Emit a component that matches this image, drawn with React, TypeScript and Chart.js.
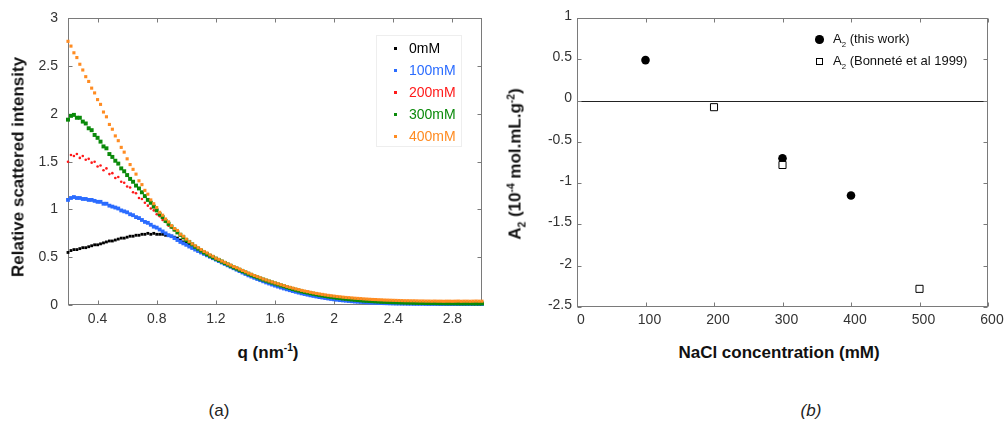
import React, { useEffect, useRef } from "react";
import { Chart, registerables } from "chart.js";

Chart.register(...registerables);

// ---- Panel (a): scattering curves ----
const qValues = [
  0.2, 0.22, 0.24, 0.26, 0.28, 0.3, 0.32, 0.34, 0.36, 0.38,
  0.4, 0.42, 0.44, 0.46, 0.48, 0.5, 0.52, 0.54, 0.56, 0.58,
  0.6, 0.62, 0.64, 0.66, 0.68, 0.7, 0.72, 0.74, 0.76, 0.78,
  0.8, 0.82, 0.84, 0.86, 0.88, 0.9, 0.92, 0.94, 0.96, 0.98,
  1.0, 1.02, 1.04, 1.06, 1.08, 1.1, 1.12, 1.14, 1.16, 1.18,
  1.2, 1.22, 1.24, 1.26, 1.28, 1.3, 1.32, 1.34, 1.36, 1.38,
  1.4, 1.42, 1.44, 1.46, 1.48, 1.5, 1.52, 1.54, 1.56, 1.58,
  1.6, 1.62, 1.64, 1.66, 1.68, 1.7, 1.72, 1.74, 1.76, 1.78,
  1.8, 1.82, 1.84, 1.86, 1.88, 1.9, 1.92, 1.94, 1.96, 1.98,
  2.0, 2.02, 2.04, 2.06, 2.08, 2.1, 2.12, 2.14, 2.16, 2.18,
  2.2, 2.22, 2.24, 2.26, 2.28, 2.3, 2.32, 2.34, 2.36, 2.38,
  2.4, 2.42, 2.44, 2.46, 2.48, 2.5, 2.52, 2.54, 2.56, 2.58,
  2.6, 2.62, 2.64, 2.66, 2.68, 2.7, 2.72, 2.74, 2.76, 2.78,
  2.8, 2.82, 2.84, 2.86, 2.88, 2.9, 2.92, 2.94, 2.96, 2.98,
  3.0,
];

const intensity0mM = [
  0.55, 0.57, 0.58, 0.58, 0.59, 0.6, 0.6, 0.61, 0.62, 0.63,
  0.63, 0.64, 0.65, 0.66, 0.67, 0.67, 0.68, 0.69, 0.7, 0.7,
  0.71, 0.72, 0.72, 0.73, 0.73, 0.74, 0.74, 0.75, 0.74, 0.75,
  0.74, 0.74, 0.74, 0.73, 0.73, 0.72, 0.71, 0.7, 0.68, 0.66,
  0.645, 0.625, 0.605, 0.59, 0.572, 0.555, 0.54, 0.524, 0.508, 0.493,
  0.478, 0.463, 0.448, 0.433, 0.418, 0.403, 0.388, 0.374, 0.36, 0.347,
  0.333, 0.319, 0.306, 0.293, 0.281, 0.268, 0.257, 0.246, 0.236, 0.226,
  0.216, 0.206, 0.196, 0.187, 0.177, 0.168, 0.159, 0.151, 0.143, 0.135,
  0.128, 0.121, 0.115, 0.109, 0.103, 0.097, 0.091, 0.086, 0.081, 0.077,
  0.072, 0.068, 0.064, 0.06, 0.057, 0.053, 0.05, 0.047, 0.044, 0.042,
  0.039, 0.037, 0.035, 0.033, 0.031, 0.029, 0.028, 0.026, 0.025, 0.024,
  0.023, 0.022, 0.021, 0.02, 0.019, 0.019, 0.018, 0.018, 0.017, 0.017,
  0.016, 0.016, 0.016, 0.015, 0.015, 0.015, 0.015, 0.014, 0.014, 0.014,
  0.014, 0.014, 0.014, 0.014, 0.013, 0.013, 0.013, 0.013, 0.013, 0.013,
  0.013,
];

const intensity100mM = [
  1.1, 1.12, 1.13, 1.12, 1.12, 1.11, 1.11, 1.1, 1.1, 1.09,
  1.08, 1.08, 1.06, 1.06, 1.04, 1.03, 1.02, 1.01, 0.99, 0.98,
  0.97, 0.95, 0.94, 0.92, 0.91, 0.89, 0.87, 0.86, 0.84, 0.82,
  0.81, 0.79, 0.77, 0.75, 0.73, 0.72, 0.7, 0.68, 0.66, 0.645,
  0.63, 0.612, 0.597, 0.58, 0.565, 0.55, 0.535, 0.52, 0.505, 0.49,
  0.475, 0.46, 0.445, 0.43, 0.415, 0.4, 0.385, 0.37, 0.355, 0.34,
  0.325, 0.31, 0.298, 0.285, 0.272, 0.26, 0.248, 0.236, 0.225, 0.214,
  0.203, 0.193, 0.183, 0.173, 0.164, 0.155, 0.146, 0.138, 0.13, 0.122,
  0.115, 0.108, 0.101, 0.095, 0.089, 0.083, 0.078, 0.073, 0.068, 0.063,
  0.059, 0.055, 0.051, 0.048, 0.045, 0.042, 0.039, 0.036, 0.034, 0.032,
  0.03, 0.028, 0.026, 0.024, 0.023, 0.021, 0.02, 0.019, 0.018, 0.017,
  0.016, 0.015, 0.015, 0.014, 0.014, 0.013, 0.013, 0.012, 0.012, 0.012,
  0.012, 0.011, 0.011, 0.011, 0.011, 0.011, 0.01, 0.01, 0.01, 0.01,
  0.01, 0.01, 0.01, 0.01, 0.01, 0.01, 0.01, 0.01, 0.01, 0.01,
  0.01,
];

const intensity200mM = [
  1.5, 1.57, 1.56, 1.58, 1.54, 1.56, 1.52, 1.53, 1.49, 1.5,
  1.45, 1.46, 1.41, 1.43, 1.37, 1.38, 1.33, 1.34, 1.29, 1.28,
  1.24, 1.23, 1.18, 1.17, 1.12, 1.11, 1.07, 1.04, 1.01, 0.99,
  0.95, 0.93, 0.89, 0.87, 0.83, 0.81, 0.78, 0.76, 0.73, 0.7,
  0.68, 0.655, 0.63, 0.61, 0.588, 0.568, 0.548, 0.53, 0.513, 0.497,
  0.482, 0.467, 0.452, 0.437, 0.422, 0.407, 0.392, 0.379, 0.365, 0.352,
  0.338, 0.324, 0.312, 0.299, 0.287, 0.274, 0.263, 0.252, 0.242, 0.232,
  0.222, 0.212, 0.202, 0.193, 0.183, 0.174, 0.165, 0.157, 0.149, 0.141,
  0.134, 0.127, 0.121, 0.115, 0.109, 0.103, 0.097, 0.092, 0.087, 0.083,
  0.078, 0.074, 0.07, 0.066, 0.063, 0.059, 0.056, 0.053, 0.05, 0.047,
  0.044, 0.042, 0.04, 0.038, 0.036, 0.034, 0.032, 0.031, 0.03, 0.028,
  0.027, 0.026, 0.025, 0.024, 0.023, 0.023, 0.022, 0.021, 0.021, 0.02,
  0.02, 0.019, 0.019, 0.019, 0.018, 0.018, 0.018, 0.017, 0.017, 0.017,
  0.017, 0.017, 0.016, 0.016, 0.016, 0.016, 0.016, 0.016, 0.015, 0.015,
  0.015,
];

const intensity300mM = [
  1.94, 1.98, 1.99, 1.96, 1.96, 1.92, 1.9, 1.85, 1.83, 1.78,
  1.75, 1.71, 1.66, 1.64, 1.58, 1.55, 1.51, 1.48, 1.43, 1.4,
  1.36, 1.32, 1.29, 1.25, 1.22, 1.18, 1.14, 1.1, 1.07, 1.03,
  0.99, 0.95, 0.92, 0.88, 0.85, 0.82, 0.79, 0.76, 0.735, 0.71,
  0.68, 0.66, 0.635, 0.61, 0.59, 0.57, 0.55, 0.532, 0.515, 0.5,
  0.485, 0.47, 0.455, 0.44, 0.425, 0.41, 0.395, 0.382, 0.368, 0.355,
  0.341, 0.327, 0.315, 0.302, 0.29, 0.277, 0.266, 0.255, 0.245, 0.235,
  0.225, 0.215, 0.205, 0.196, 0.186, 0.177, 0.167, 0.159, 0.151, 0.143,
  0.136, 0.13, 0.123, 0.117, 0.111, 0.105, 0.099, 0.094, 0.089, 0.085,
  0.08, 0.076, 0.072, 0.068, 0.065, 0.061, 0.058, 0.055, 0.052, 0.049,
  0.046, 0.044, 0.042, 0.04, 0.038, 0.036, 0.034, 0.033, 0.031, 0.03,
  0.029, 0.028, 0.027, 0.026, 0.025, 0.024, 0.024, 0.023, 0.022, 0.022,
  0.021, 0.021, 0.02, 0.02, 0.02, 0.019, 0.019, 0.019, 0.018, 0.018,
  0.018, 0.018, 0.017, 0.017, 0.017, 0.017, 0.017, 0.016, 0.016, 0.016,
  0.016,
];

const intensity400mM = [
  2.76, 2.71, 2.64, 2.59, 2.52, 2.46, 2.39, 2.34, 2.27, 2.22,
  2.15, 2.1, 2.02, 1.97, 1.89, 1.84, 1.77, 1.72, 1.65, 1.6,
  1.53, 1.47, 1.42, 1.37, 1.3, 1.26, 1.2, 1.16, 1.1, 1.06,
  1.02, 0.97, 0.94, 0.9, 0.87, 0.83, 0.8, 0.78, 0.74, 0.72,
  0.69, 0.665, 0.64, 0.62, 0.6, 0.58, 0.56, 0.545, 0.525, 0.51,
  0.49, 0.478, 0.46, 0.447, 0.43, 0.418, 0.402, 0.39, 0.376, 0.362,
  0.348, 0.334, 0.322, 0.308, 0.297, 0.285, 0.272, 0.262, 0.251, 0.241,
  0.231, 0.222, 0.212, 0.203, 0.193, 0.185, 0.177, 0.168, 0.161, 0.153,
  0.146, 0.14, 0.133, 0.127, 0.121, 0.116, 0.111, 0.106, 0.101, 0.097,
  0.093, 0.089, 0.086, 0.082, 0.079, 0.077, 0.074, 0.071, 0.069, 0.067,
  0.064, 0.062, 0.06, 0.058, 0.057, 0.055, 0.054, 0.052, 0.051, 0.05,
  0.049, 0.048, 0.047, 0.046, 0.045, 0.045, 0.044, 0.044, 0.043, 0.042,
  0.042, 0.041, 0.041, 0.04, 0.041, 0.04, 0.04, 0.039, 0.04, 0.04,
  0.039, 0.04, 0.041, 0.039, 0.04, 0.04, 0.039, 0.04, 0.041, 0.04,
  0.04,
];

const seriesLabels = ["0mM", "100mM", "200mM", "300mM", "400mM"];
const seriesColors = ["#000000", "#2b6cff", "#ff1a1a", "#0a8a0a", "#ff8c22"];
const qTicks = [0.4, 0.8, 1.2, 1.6, 2, 2.4, 2.8];
const intensityTicks = [0, 0.5, 1, 1.5, 2, 2.5, 3];

// ---- Panel (b): second virial coefficient ----
const thisWorkNaCl = [100, 300, 400];
const thisWorkA2 = [0.49, -0.7, -1.15];
const bonneteNaCl = [200, 300, 500];
const bonneteA2 = [-0.08, -0.78, -2.28];
const naclTicks = [0, 100, 200, 300, 400, 500, 600];
const a2Ticks = [-2.5, -2, -1.5, -1, -0.5, 0, 0.5, 1];

const FONT = '"Liberation Sans", Arial, sans-serif';
const TICK_COLOR = "#333333";

// Box around the plot area with short inward ticks on all four sides.
const framePlugin = {
  id: "frame",
  beforeDatasetsDraw(chart: any, _args: any, opts: any) {
    const { ctx, chartArea } = chart;
    const xs = chart.scales.x;
    const ys = chart.scales.y;
    const l = Math.round(chartArea.left) + 0.5;
    const r = Math.round(chartArea.right) - 0.5;
    const t = Math.round(chartArea.top) + 0.5;
    const b = Math.round(chartArea.bottom) - 0.5;
    const len = 4;
    ctx.save();
    ctx.lineWidth = 1;
    if (opts.zeroLine) {
      const y0 = Math.round(ys.getPixelForValue(0)) + 0.5;
      ctx.strokeStyle = "#222222";
      ctx.beginPath();
      ctx.moveTo(l, y0);
      ctx.lineTo(r, y0);
      ctx.stroke();
    }
    ctx.strokeStyle = opts.color || "#777777";
    ctx.strokeRect(l, t, r - l, b - t);
    ctx.beginPath();
    for (const tk of xs.ticks) {
      const x = Math.round(xs.getPixelForValue(tk.value)) + 0.5;
      ctx.moveTo(x, b);
      ctx.lineTo(x, b - len);
      ctx.moveTo(x, t);
      ctx.lineTo(x, t + len);
    }
    for (const tk of ys.ticks) {
      const y = Math.round(ys.getPixelForValue(tk.value)) + 0.5;
      ctx.moveTo(l, y);
      ctx.lineTo(l + len, y);
      ctx.moveTo(r, y);
      ctx.lineTo(r - len, y);
    }
    ctx.stroke();
    ctx.restore();
  },
};

function fixedTicks(values: number[]) {
  return (scale: any) => {
    scale.ticks = values.map((v) => ({ value: v }));
  };
}

const plainNumber = (v: any) => String(v);

function tickFont() {
  return { family: FONT, size: 14 };
}

const supStyle: React.CSSProperties = { fontSize: "0.6em", verticalAlign: "0.6em", lineHeight: 0 };
const subStyle: React.CSSProperties = { fontSize: "0.6em", verticalAlign: "-0.45em", lineHeight: 0 };

function Label(props: { x: number; y: number; rotate?: boolean; style?: React.CSSProperties; children: React.ReactNode }) {
  return (
    <div
      style={{
        position: "absolute",
        left: props.x,
        top: props.y,
        transform: `translate(-50%, -50%)${props.rotate ? " rotate(-90deg)" : ""}`,
        whiteSpace: "nowrap",
        lineHeight: 1,
        fontFamily: FONT,
        ...props.style,
      }}
    >
      {props.children}
    </div>
  );
}

export default function App() {
  const leftRef = useRef<HTMLCanvasElement | null>(null);
  const rightRef = useRef<HTMLCanvasElement | null>(null);

  useEffect(() => {
    const series = [intensity0mM, intensity100mM, intensity200mM, intensity300mM, intensity400mM];
    const radii = [2.0, 2.7, 1.3, 2.8, 2.2];
    const styles = ["rect", "rect", "circle", "rect", "rect"];
    const drawOrder = [4, 3, 2, 1, 0];

    const left = new Chart(leftRef.current as HTMLCanvasElement, {
      type: "scatter",
      data: {
        datasets: series.map((vals, k) => ({
          label: seriesLabels[k],
          data: qValues.map((q, i) => ({ x: q, y: vals[i] })),
          pointStyle: styles[k] as any,
          pointRadius: radii[k],
          pointBorderWidth: 0,
          backgroundColor: seriesColors[k],
          borderColor: seriesColors[k],
          order: drawOrder[k],
          clip: false as any,
        })),
      },
      options: {
        animation: false,
        responsive: false,
        maintainAspectRatio: false,
        events: [],
        layout: { padding: { top: 15, right: 18, left: 0, bottom: 0 } },
        plugins: {
          legend: { display: false },
          tooltip: { enabled: false },
          frame: { color: "#7a7a7a" },
        } as any,
        scales: {
          x: {
            type: "linear",
            min: 0.2,
            max: 3.0,
            afterBuildTicks: fixedTicks(qTicks),
            afterFit: (s: any) => {
              s.height = 35;
            },
            grid: { display: false, drawTicks: false },
            border: { display: false },
            ticks: { font: tickFont(), color: TICK_COLOR, padding: 6, autoSkip: false, maxRotation: 0, callback: plainNumber },
          },
          y: {
            type: "linear",
            min: 0,
            max: 3,
            afterBuildTicks: fixedTicks(intensityTicks),
            afterFit: (s: any) => {
              s.width = 68;
            },
            grid: { display: false, drawTicks: false },
            border: { display: false },
            ticks: { font: tickFont(), color: TICK_COLOR, padding: 10, autoSkip: false, callback: plainNumber },
          },
        },
      },
      plugins: [framePlugin],
    });

    const right = new Chart(rightRef.current as HTMLCanvasElement, {
      type: "scatter",
      data: {
        datasets: [
          {
            label: "A2 (this work)",
            data: thisWorkNaCl.map((c, i) => ({ x: c, y: thisWorkA2[i] })),
            pointStyle: "circle",
            pointRadius: 4.3,
            pointBorderWidth: 0,
            backgroundColor: "#000000",
            borderColor: "#000000",
            order: 1,
          },
          {
            label: "A2 (Bonneté et al 1999)",
            data: bonneteNaCl.map((c, i) => ({ x: c, y: bonneteA2[i] })),
            pointStyle: "rect",
            pointRadius: 5,
            pointBorderWidth: 1,
            backgroundColor: "#ffffff",
            borderColor: "#000000",
            order: 0,
          },
        ],
      },
      options: {
        animation: false,
        responsive: false,
        maintainAspectRatio: false,
        events: [],
        layout: { padding: { top: 18, right: 17, left: 0, bottom: 0 } },
        plugins: {
          legend: { display: false },
          tooltip: { enabled: false },
          frame: { color: "#7a7a7a", zeroLine: true },
        } as any,
        scales: {
          x: {
            type: "linear",
            min: 0,
            max: 600,
            afterBuildTicks: fixedTicks(naclTicks),
            afterFit: (s: any) => {
              s.height = 33;
            },
            grid: { display: false, drawTicks: false },
            border: { display: false },
            ticks: { font: tickFont(), color: TICK_COLOR, padding: 5, labelOffset: 4, autoSkip: false, maxRotation: 0, callback: plainNumber },
          },
          y: {
            type: "linear",
            min: -2.5,
            max: 1,
            afterBuildTicks: fixedTicks(a2Ticks),
            afterFit: (s: any) => {
              s.width = 77;
            },
            grid: { display: false, drawTicks: false },
            border: { display: false },
            ticks: { font: tickFont(), color: TICK_COLOR, padding: 5, labelOffset: -2, autoSkip: false, callback: plainNumber },
          },
        },
      },
      plugins: [framePlugin],
    });

    return () => {
      left.destroy();
      right.destroy();
    };
  }, []);

  const titleStyle: React.CSSProperties = { fontWeight: "bold", fontSize: 17, color: "#111111" };

  return (
    <div style={{ position: "absolute", left: 0, top: 0, width: 1005, height: 422, background: "#ffffff", overflow: "hidden" }}>
      <canvas ref={leftRef} width={500} height={340} style={{ position: "absolute", left: 0, top: 0, width: 500, height: 340 }} />
      <canvas ref={rightRef} width={505} height={340} style={{ position: "absolute", left: 500, top: 0, width: 505, height: 340 }} />

      {/* legend of panel (a) */}
      <div style={{ position: "absolute", left: 376, top: 35, width: 86, height: 112, border: "1px solid #eeeeee", boxSizing: "border-box" }} />
      {seriesLabels.map((lab, i) => (
        <React.Fragment key={lab}>
          <div style={{ position: "absolute", left: 393.5, top: 46.5 + 22 * i, width: 3, height: 3, background: seriesColors[i] }} />
          <div
            style={{
              position: "absolute",
              left: 409,
              top: 48 + 22 * i,
              transform: "translateY(-50%)",
              fontFamily: FONT,
              fontSize: 14,
              lineHeight: 1,
              color: seriesColors[i],
              whiteSpace: "nowrap",
            }}
          >
            {lab}
          </div>
        </React.Fragment>
      ))}

      {/* legend of panel (b) */}
      <div style={{ position: "absolute", left: 815, top: 35, width: 8.5, height: 8.5, borderRadius: "50%", background: "#000000" }} />
      <div style={{ position: "absolute", left: 815.5, top: 57.5, width: 7, height: 7, border: "1px solid #000000", boxSizing: "border-box", background: "#ffffff" }} />
      <div style={{ position: "absolute", left: 833, top: 32, fontFamily: FONT, fontSize: 13, lineHeight: 1, color: "#111111", whiteSpace: "nowrap" }}>
        A<span style={subStyle}>2</span> (this work)
      </div>
      <div style={{ position: "absolute", left: 833, top: 54, fontFamily: FONT, fontSize: 13, lineHeight: 1, color: "#111111", whiteSpace: "nowrap" }}>
        A<span style={subStyle}>2</span> (Bonneté et al 1999)
      </div>

      {/* axis titles */}
      <Label x={18} y={167} rotate style={titleStyle}>
        Relative scattered intensity
      </Label>
      <Label x={268} y={352} style={titleStyle}>
        q (nm<span style={supStyle}>-1</span>)
      </Label>
      <Label x={779} y={352} style={titleStyle}>
        NaCl concentration (mM)
      </Label>
      <Label x={515} y={164} rotate style={titleStyle}>
        A<span style={subStyle}>2</span> (10<span style={supStyle}>-4</span> mol.mL.g<span style={supStyle}>-2</span>)
      </Label>

      {/* panel captions */}
      <Label x={219} y={410} style={{ fontSize: 17, color: "#222222" }}>
        (a)
      </Label>
      <Label x={811} y={410} style={{ fontSize: 17, color: "#222222", fontStyle: "italic" }}>
        (b)
      </Label>
    </div>
  );
}
